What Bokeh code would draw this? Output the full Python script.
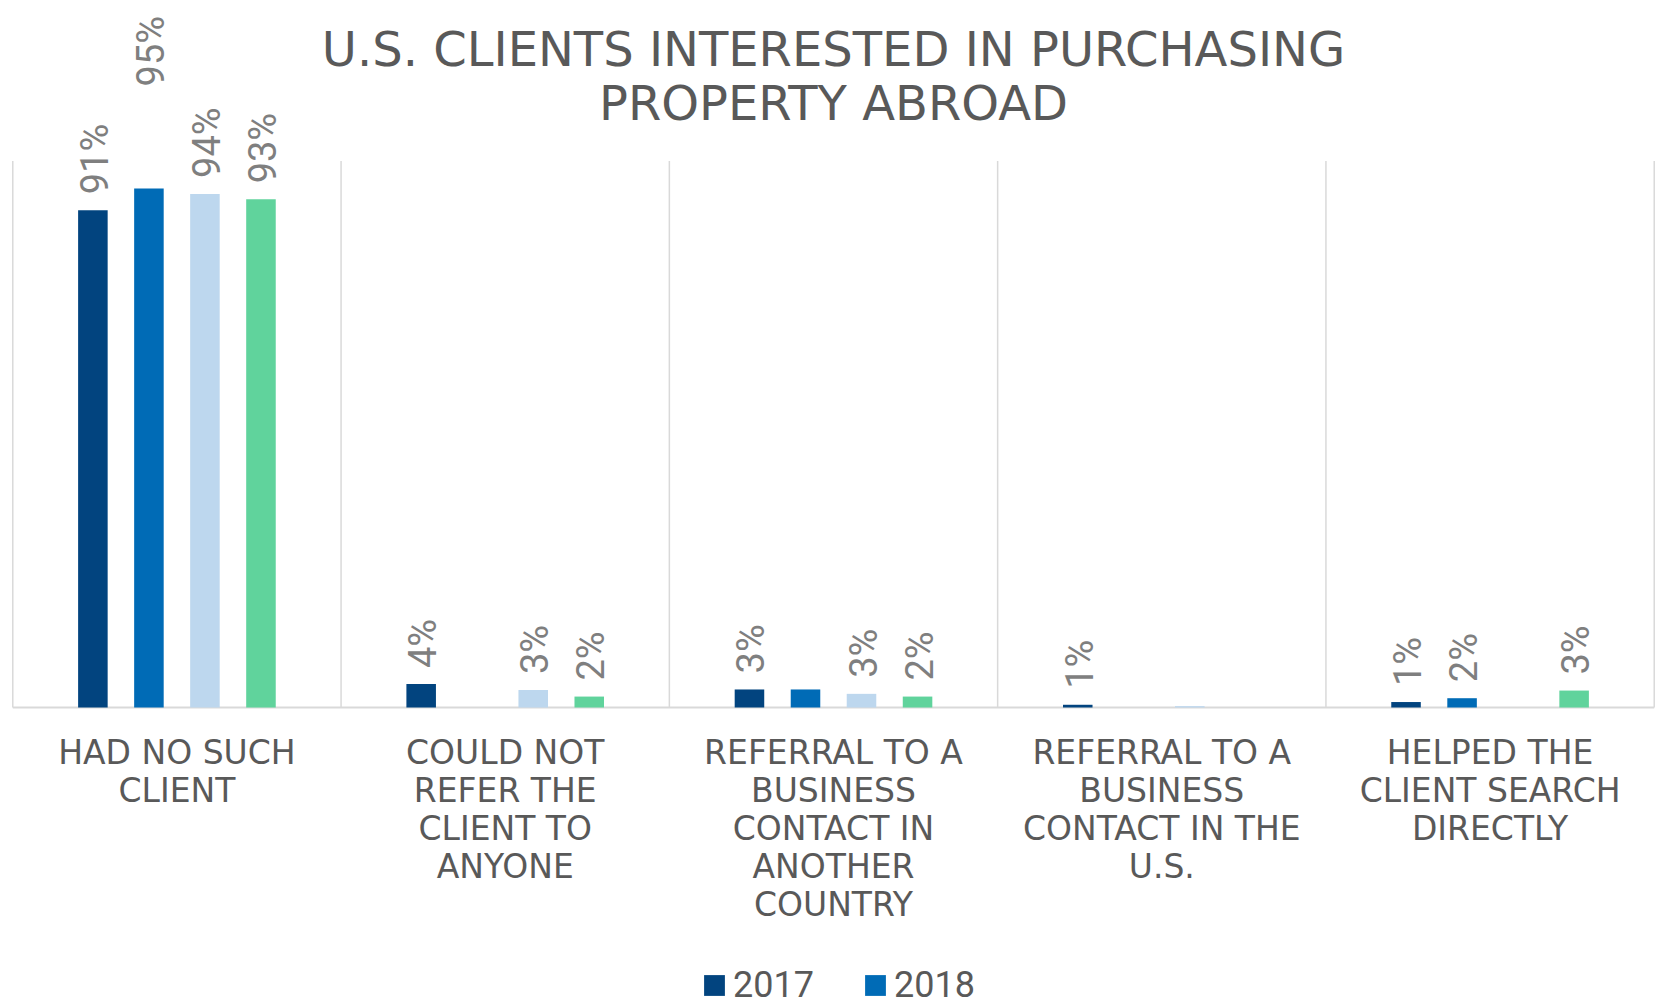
from math import pi
from bokeh.plotting import figure
from bokeh.models import ColumnDataSource, FactorRange, Range1d, Legend, LegendItem
from bokeh.transform import dodge
from bokeh.core.properties import value
from bokeh.embed import file_html
from bokeh.resources import INLINE

# ---------------- data ----------------
title_lines = ["U.S. CLIENTS INTERESTED IN PURCHASING", "PROPERTY ABROAD"]

categories = [
    "HAD NO SUCH CLIENT",
    "COULD NOT REFER THE CLIENT TO ANYONE",
    "REFERRAL TO A BUSINESS CONTACT IN ANOTHER COUNTRY",
    "REFERRAL TO A BUSINESS CONTACT IN THE U.S.",
    "HELPED THE CLIENT SEARCH DIRECTLY",
]
category_labels = [
    "HAD NO SUCH\nCLIENT",
    "COULD NOT\nREFER THE\nCLIENT TO\nANYONE",
    "REFERRAL TO A\nBUSINESS\nCONTACT IN\nANOTHER\nCOUNTRY",
    "REFERRAL TO A\nBUSINESS\nCONTACT IN THE\nU.S.",
    "HELPED THE\nCLIENT SEARCH\nDIRECTLY",
]
years = ["2017", "2018", "2019", "2020"]

values_2017 = [91, 4.3, 3.3, 0.5, 1.0]
values_2018 = [95, 0, 3.3, 0, 1.7]
values_2019 = [94, 3.2, 2.5, 0.25, 0]
values_2020 = [93, 2.0, 2.0, 0, 3.1]

labels_2017 = ["91%", "4%", "3%", "1%", "1%"]
labels_2018 = ["95%", "", "", "", "2%"]
labels_2019 = ["94%", "3%", "3%", "", ""]
labels_2020 = ["93%", "2%", "2%", "", "3%"]

legend_years_shown = ["2017", "2018"]

series_values = [values_2017, values_2018, values_2019, values_2020]
series_labels = [labels_2017, labels_2018, labels_2019, labels_2020]

# ---------------- style ----------------
colors = ["#02447f", "#006bb6", "#bdd7ee", "#60d39c"]
offsets = [-0.256, -0.0853, 0.0853, 0.256]
bar_width = 0.09
text_gray = "#595959"
label_gray = "#7f7f7f"
grid_gray = "#d9d9d9"
default_label_offset = -16
special_label_offset = {(1, 0): -102}   # (series, category) -> y offset in px

W, H = 1657, 1006
base_px = 707          # screen y of the value-0 line
px_per_unit = 5.464

p = figure(
    x_range=FactorRange(factors=categories, range_padding=0.004),
    y_range=Range1d(-(H - base_px) / px_per_unit, base_px / px_per_unit),
    width=W, height=H,
    output_backend="svg", toolbar_location=None,
    min_border_left=9, min_border_right=0, min_border_top=0, min_border_bottom=0,
)
p.outline_line_color = None
p.xgrid.visible = False
p.ygrid.visible = False
p.xaxis.visible = False
p.yaxis.visible = False

# category separators and base line
n = len(categories)
seps = list(range(n + 1))
p.segment(x0=seps, y0=[0] * len(seps), x1=seps, y1=[100] * len(seps),
          line_color=grid_gray, line_width=1.5)
p.segment(x0=[0], y0=[0], x1=[n], y1=[0], line_color=grid_gray, line_width=2)

bars = []
for i, yr in enumerate(years):
    yoffs = [special_label_offset.get((i, j), default_label_offset) for j in range(n)]
    src = ColumnDataSource(dict(cat=categories, val=series_values[i],
                                lab=series_labels[i], yoff=yoffs))
    r = p.vbar(x=dodge("cat", offsets[i], range=p.x_range), top="val", width=bar_width,
               source=src, fill_color=colors[i], line_color=None)
    bars.append(r)
    p.text(x=dodge("cat", offsets[i], range=p.x_range), y="val", text="lab", source=src,
           angle=pi / 2, text_align="left", text_baseline="middle",
           x_offset=2, y_offset="yoff",
           text_font=value("Roboto"), text_font_size="38px", text_color=label_gray)

# category labels
cat_src = ColumnDataSource(dict(cat=categories, lab=category_labels, y=[0] * n))
p.text(x="cat", y="y", text="lab", source=cat_src, text_align="center", text_baseline="top",
       y_offset=25, text_line_height=0.98,
       text_font=value("DejaVu Sans"), text_font_size="33px", text_color=text_gray)

# title (two lines)
title_src = ColumnDataSource(dict(x=[n / 2, n / 2], y=[120.6, 110.7], t=title_lines))
p.text(x="x", y="y", text="t", source=title_src, text_align="center", text_baseline="middle",
       text_font=value("DejaVu Sans"), text_font_size="48px", text_color=text_gray)

# legend
items = [LegendItem(label=yr, renderers=[bars[years.index(yr)]]) for yr in legend_years_shown]
legend = Legend(items=items, location=(692, 0), orientation="horizontal",
                glyph_width=26, glyph_height=26, label_standoff=6, spacing=48,
                label_text_font="Roboto", label_text_font_size="36px",
                label_text_color=text_gray, border_line_color=None,
                background_fill_alpha=0, padding=0, margin=0)
p.add_layout(legend)

open("out.html", "w").write(file_html(p, INLINE))
